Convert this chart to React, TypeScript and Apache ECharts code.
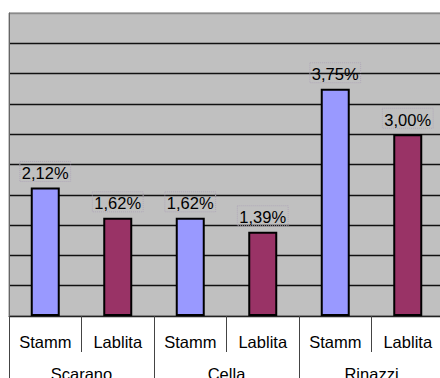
import React, { useEffect, useRef } from "react";
import * as echarts from "echarts";

const groups = ["Scarano", "Cella", "Rinazzi"];
const subCategories = ["Stamm", "Lablita", "Stamm", "Lablita", "Stamm", "Lablita"];
const stammValues = [2.12, 1.62, 3.75];
const lablitaValues = [1.62, 1.39, 3.0];
const stammColor = "#9999FF";
const lablitaColor = "#993366";

export default function App() {
  const ref = useRef<HTMLDivElement>(null);

  useEffect(() => {
    if (!ref.current) return;
    const chart = echarts.init(ref.current, null, { renderer: "svg" });

    const barData: any[] = [];
    groups.forEach((_, i) => {
      barData.push({ value: stammValues[i], itemStyle: { color: stammColor } });
      barData.push({ value: lablitaValues[i], itemStyle: { color: lablitaColor } });
    });

    const font = "'Liberation Sans', Arial, sans-serif";
    const splitColors = Array(10).fill("#111111").concat(["#8a8a8a"]);

    chart.setOption({
      animation: false,
      backgroundColor: "#ffffff",
      grid: {
        left: 9,
        top: 13,
        right: -4,
        height: 303,
        outerBoundsMode: "none",
        containLabel: false,
        show: true,
        backgroundColor: "#C0C0C0",
        borderColor: "#8a8a8a",
        borderWidth: 1,
      },
      xAxis: [
        {
          type: "category",
          data: subCategories,
          position: "bottom",
          axisLine: { show: true, lineStyle: { color: "#222", width: 1 } },
          axisTick: { show: true, interval: 0, length: 36, lineStyle: { color: "#444", width: 1 } },
          axisLabel: {
            interval: 0,
            margin: 17,
            color: "#000",
            fontSize: 16.5,
            fontFamily: font,
          },
        },
        {
          type: "category",
          data: groups,
          position: "bottom",
          offset: 0,
          axisLine: { show: false },
          axisTick: { show: true, interval: 0, length: 70, lineStyle: { color: "#444", width: 1 } },
          axisLabel: {
            interval: 0,
            margin: 49,
            color: "#000",
            fontSize: 16.5,
            fontFamily: font,
          },
        },
      ],
      yAxis: {
        type: "value",
        min: 0,
        max: 5,
        interval: 0.5,
        axisLabel: { show: false },
        axisLine: { show: true, lineStyle: { color: "#666", width: 1 } },
        axisTick: { show: false },
        splitLine: { show: true, lineStyle: { color: splitColors, width: 1.4 } },
      },
      series: [
        {
          type: "bar",
          xAxisIndex: 0,
          data: barData,
          barWidth: 29,
          itemStyle: { borderColor: "#000", borderWidth: 2 },
          label: {
            show: true,
            position: "top",
            distance: 6,
            color: "#000",
            fontSize: 16.5,
            fontFamily: font,
            borderColor: "#b0a8b8",
            borderWidth: 1,
            borderType: "dotted",
            padding: [3, 2, 0, 2],
            formatter: (p: any) => p.value.toFixed(2).replace(".", ",") + "%",
          },
        },
      ],
    });

    return () => chart.dispose();
  }, []);

  return (
    <div
      ref={ref}
      style={{ position: "absolute", left: 0, top: 0, width: 440, height: 378 }}
    />
  );
}
